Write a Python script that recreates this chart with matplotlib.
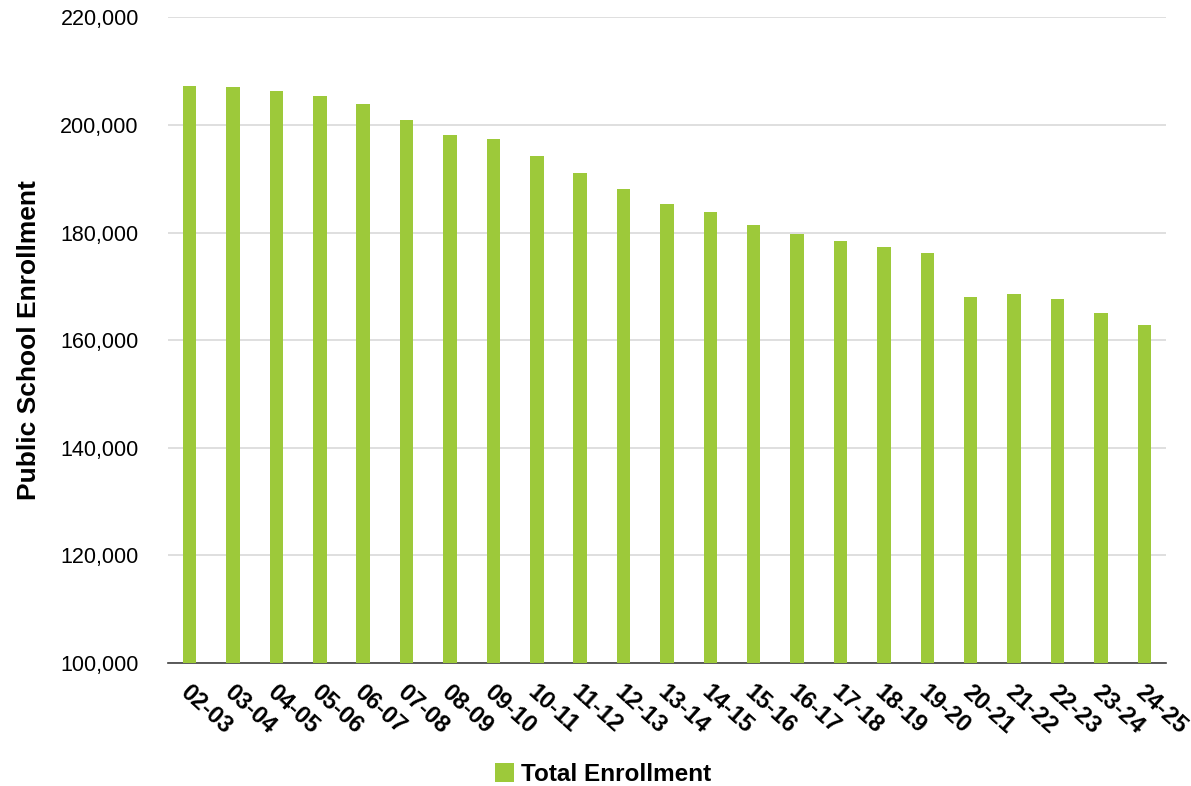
import numpy as np
import matplotlib.pyplot as plt
import matplotlib.transforms as mtransforms
from matplotlib.ticker import FuncFormatter

plt.rcParams['font.family'] = ['Liberation Sans', 'DejaVu Sans']

years = ["02-03", "03-04", "04-05", "05-06", "06-07", "07-08", "08-09", "09-10",
         "10-11", "11-12", "12-13", "13-14", "14-15", "15-16", "16-17", "17-18",
         "18-19", "19-20", "20-21", "21-22", "22-23", "23-24", "24-25"]
enrollment = [207200, 207000, 206300, 205300, 203800, 200900, 198100, 197300,
              194200, 191000, 188100, 185300, 183800, 181400, 179700, 178400,
              177300, 176200, 168000, 168500, 167600, 165000, 162800]

fig = plt.figure(figsize=(11.91, 7.86), dpi=100)
ax = fig.add_axes([0.141, 0.1565, 0.838, 0.8215])

x = np.arange(len(years))
ax.bar(x, enrollment, width=0.31, color='#9DC93A', label='Total Enrollment', zorder=3)

ax.set_xlim(-0.5, len(years) - 0.5)
ax.set_ylim(100000, 220000)
ax.set_yticks(np.arange(100000, 220001, 20000))
ax.yaxis.set_major_formatter(FuncFormatter(lambda v, p: f"{int(v):,}"))
ax.grid(axis='y', color='#d9d9d9', linewidth=1.2, zorder=0)

for s in ['top', 'right', 'left']:
    ax.spines[s].set_visible(False)
ax.spines['bottom'].set_color('#404040')
ax.spines['bottom'].set_linewidth(1.2)

ax.tick_params(axis='y', length=0, labelsize=15.5, pad=21)
ax.tick_params(axis='x', length=0, labelsize=17, pad=13)
ax.set_xticks(x)
ax.set_xticklabels(years, rotation=-42, ha='left', rotation_mode='anchor', fontweight='bold')
# nudge the slanted labels a touch to the right
shift = mtransforms.ScaledTranslation(2 / 100, 0, fig.dpi_scale_trans)
for lbl in ax.get_xticklabels():
    lbl.set_transform(lbl.get_transform() + shift)

ax.set_ylabel("Public School Enrollment", fontsize=19, fontweight='bold', labelpad=14)

ax.legend(loc='center', bbox_to_anchor=(0.436, -0.173), bbox_transform=ax.transAxes,
          frameon=False, prop={'size': 17.5, 'weight': 'bold'},
          handlelength=0.8, handleheight=0.8, handletextpad=0.3)

fig.savefig("out.png", dpi=100)
